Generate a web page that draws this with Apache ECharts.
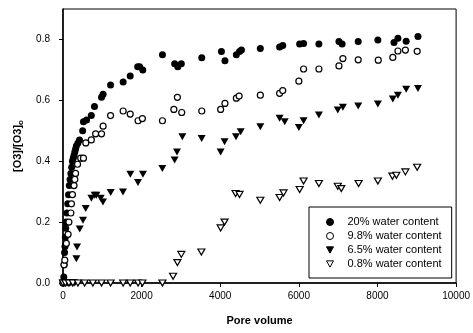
<!DOCTYPE html>
<html>
<head>
<meta charset="utf-8">
<script src="https://cdn.jsdelivr.net/npm/echarts@6/dist/echarts.min.js"></script>
<style>
  html, body { margin: 0; padding: 0; background: #fff; }
  #chart { width: 473px; height: 333px; }
</style>
</head>
<body>
<div id="chart"></div>
<script>
// pore volume vs [O3]/[O3]0, one array per water content
const seriesNames = ['20% water content', '9.8% water content', '6.5% water content', '0.8% water content'];

const water20 = [
    [0, 0], [20, 0.02], [30, 0.06], [40, 0.1], [50, 0.12], [60, 0.15], [70, 0.18], [80, 0.2],
    [100, 0.23], [120, 0.26], [140, 0.29], [160, 0.32], [180, 0.34], [200, 0.36], [220, 0.38],
    [240, 0.4], [260, 0.41], [280, 0.42], [300, 0.43], [320, 0.44], [340, 0.45], [380, 0.46],
    [420, 0.47], [500, 0.5], [520, 0.53], [600, 0.535], [720, 0.55], [800, 0.58], [980, 0.61],
    [1020, 0.62], [1210, 0.65], [1530, 0.66], [1710, 0.68], [1900, 0.71], [1950, 0.71], [2030, 0.7],
    [2530, 0.75], [2840, 0.72], [2920, 0.71], [3010, 0.72], [3530, 0.74], [4030, 0.76], [4120, 0.73],
    [4410, 0.75], [4490, 0.76], [4540, 0.765], [5020, 0.77], [5510, 0.775], [5590, 0.78],
    [6020, 0.785], [6120, 0.787], [6510, 0.785], [7020, 0.793], [7100, 0.785], [7510, 0.793],
    [8010, 0.798], [8420, 0.79], [8520, 0.804], [8730, 0.794], [9030, 0.81]
];

const water98 = [
    [0, 0], [25, 0.06], [45, 0.075], [85, 0.13], [130, 0.16], [150, 0.2], [200, 0.23], [215, 0.26],
    [240, 0.29], [280, 0.32], [300, 0.34], [320, 0.36], [370, 0.39], [450, 0.41], [520, 0.41],
    [580, 0.46], [720, 0.47], [830, 0.49], [980, 0.49], [1020, 0.515], [1210, 0.55], [1530, 0.565],
    [1710, 0.555], [1910, 0.533], [2020, 0.54], [2530, 0.533], [2820, 0.57], [2910, 0.61],
    [3020, 0.56], [3530, 0.565], [4010, 0.57], [4120, 0.59], [4410, 0.607], [4480, 0.614],
    [5020, 0.617], [5510, 0.623], [5590, 0.632], [6000, 0.663], [6120, 0.703], [6510, 0.703],
    [7020, 0.713], [7120, 0.737], [7510, 0.733], [8020, 0.732], [8390, 0.741], [8520, 0.762],
    [8710, 0.765], [9010, 0.761]
];

const water65 = [
    [0, 0], [40, 0], [80, 0], [120, 0], [160, 0], [200, 0], [250, 0], [300, 0],
    [340, 0.08], [357, 0.118], [425, 0.177], [509, 0.206], [577, 0.245], [722, 0.278],
    [806, 0.288], [849, 0.288], [959, 0.278], [1017, 0.266], [1213, 0.297], [1526, 0.299],
    [1713, 0.357], [1907, 0.33], [2034, 0.357], [2527, 0.376], [2840, 0.404], [2900, 0.43],
    [3036, 0.48], [3527, 0.475], [4010, 0.43], [4110, 0.464], [4400, 0.48], [4520, 0.497],
    [5020, 0.513], [5510, 0.541], [5640, 0.53], [6000, 0.511], [6120, 0.533], [6510, 0.552],
    [6990, 0.568], [7120, 0.577], [7510, 0.581], [8010, 0.588], [8390, 0.604], [8520, 0.617],
    [8730, 0.636], [9030, 0.639]
];

const water08 = [
    [0, 0], [60, 0], [150, 0], [250, 0], [380, 0], [550, 0], [760, 0], [980, 0], [1210, 0],
    [1530, 0], [1710, 0], [1910, 0], [2020, 0], [2530, 0], [2800, 0.022], [2910, 0.067],
    [3010, 0.094], [3520, 0.102], [4010, 0.181], [4110, 0.2], [4390, 0.294], [4490, 0.291],
    [5020, 0.272], [5510, 0.281], [5610, 0.296], [6020, 0.307], [6120, 0.335], [6510, 0.327],
    [6990, 0.318], [7080, 0.31], [7520, 0.327], [8010, 0.335], [8380, 0.351], [8480, 0.354],
    [8710, 0.365], [9010, 0.38]
];

const xTicks = {min: 0, max: 10000, interval: 2000};
const yTicks = {min: 0, max: 0.9, interval: 0.2};

const chart = echarts.init(document.getElementById('chart'));

const fontFam = 'Liberation Sans, Arial, sans-serif';
// downward triangle, so the legend icon points the same way as the marks
const downTri = 'path://M0,0 L10,0 L5,9 Z';

function scatter(name, data, symbol, fill, size) {
    return {
        name: name,
        type: 'scatter',
        data: data,
        symbol: symbol,
        symbolSize: size,
        itemStyle: {color: fill, borderColor: '#000', borderWidth: fill === '#fff' ? 1.2 : 0, opacity: 1}
    };
}

chart.setOption({
    animation: false,
    backgroundColor: '#fff',
    grid: {left: 63, right: 16, top: 9, bottom: 50, show: true, borderColor: '#000', borderWidth: 1},
    legend: {
        orient: 'vertical',
        left: 309,
        top: 207,
        padding: [9, 10, 8, 17],
        itemGap: 2,
        itemWidth: 7,
        itemHeight: 7,
        itemStyle: {borderWidth: 1},
        borderColor: '#000',
        borderWidth: 1,
        textStyle: {fontSize: 11, color: '#000', fontFamily: fontFam, padding: [0, 0, 0, 9], lineHeight: 12},
        data: seriesNames
    },
    xAxis: {
        type: 'value',
        min: xTicks.min,
        max: xTicks.max,
        interval: xTicks.interval,
        name: 'Pore volume',
        nameLocation: 'middle',
        nameGap: 32,
        nameTextStyle: {fontSize: 11, fontWeight: 'bold', color: '#000', fontFamily: fontFam},
        axisLine: {lineStyle: {color: '#000', width: 1.5}},
        axisTick: {length: 4, lineStyle: {color: '#000'}},
        axisLabel: {fontSize: 10, color: '#000', margin: 8, fontFamily: fontFam, formatter: v => String(v)},
        splitLine: {show: false}
    },
    yAxis: {
        type: 'value',
        min: yTicks.min,
        max: yTicks.max,
        interval: yTicks.interval,
        name: '[O3]/[O3]{sub|o}',
        nameLocation: 'middle',
        nameGap: 38,
        nameTextStyle: {
            fontSize: 11, fontWeight: 'bold', color: '#000', fontFamily: fontFam,
            rich: {sub: {fontSize: 8, fontWeight: 'bold', verticalAlign: 'bottom', padding: [6, 0, 0, 0]}}
        },
        axisLine: {lineStyle: {color: '#000', width: 1.5}},
        axisTick: {length: 4, lineStyle: {color: '#000'}},
        axisLabel: {
            fontSize: 10, color: '#000', margin: 13, fontFamily: fontFam, showMaxLabel: false,
            formatter: v => v.toFixed(1)
        },
        splitLine: {show: false}
    },
    series: [
        scatter(seriesNames[0], water20, 'circle', '#000', 7),
        scatter(seriesNames[1], water98, 'circle', '#fff', 6),
        scatter(seriesNames[2], water65, downTri, '#000', [8, 7]),
        scatter(seriesNames[3], water08, downTri, '#fff', [7, 6])
    ]
});
</script>
</body>
</html>
